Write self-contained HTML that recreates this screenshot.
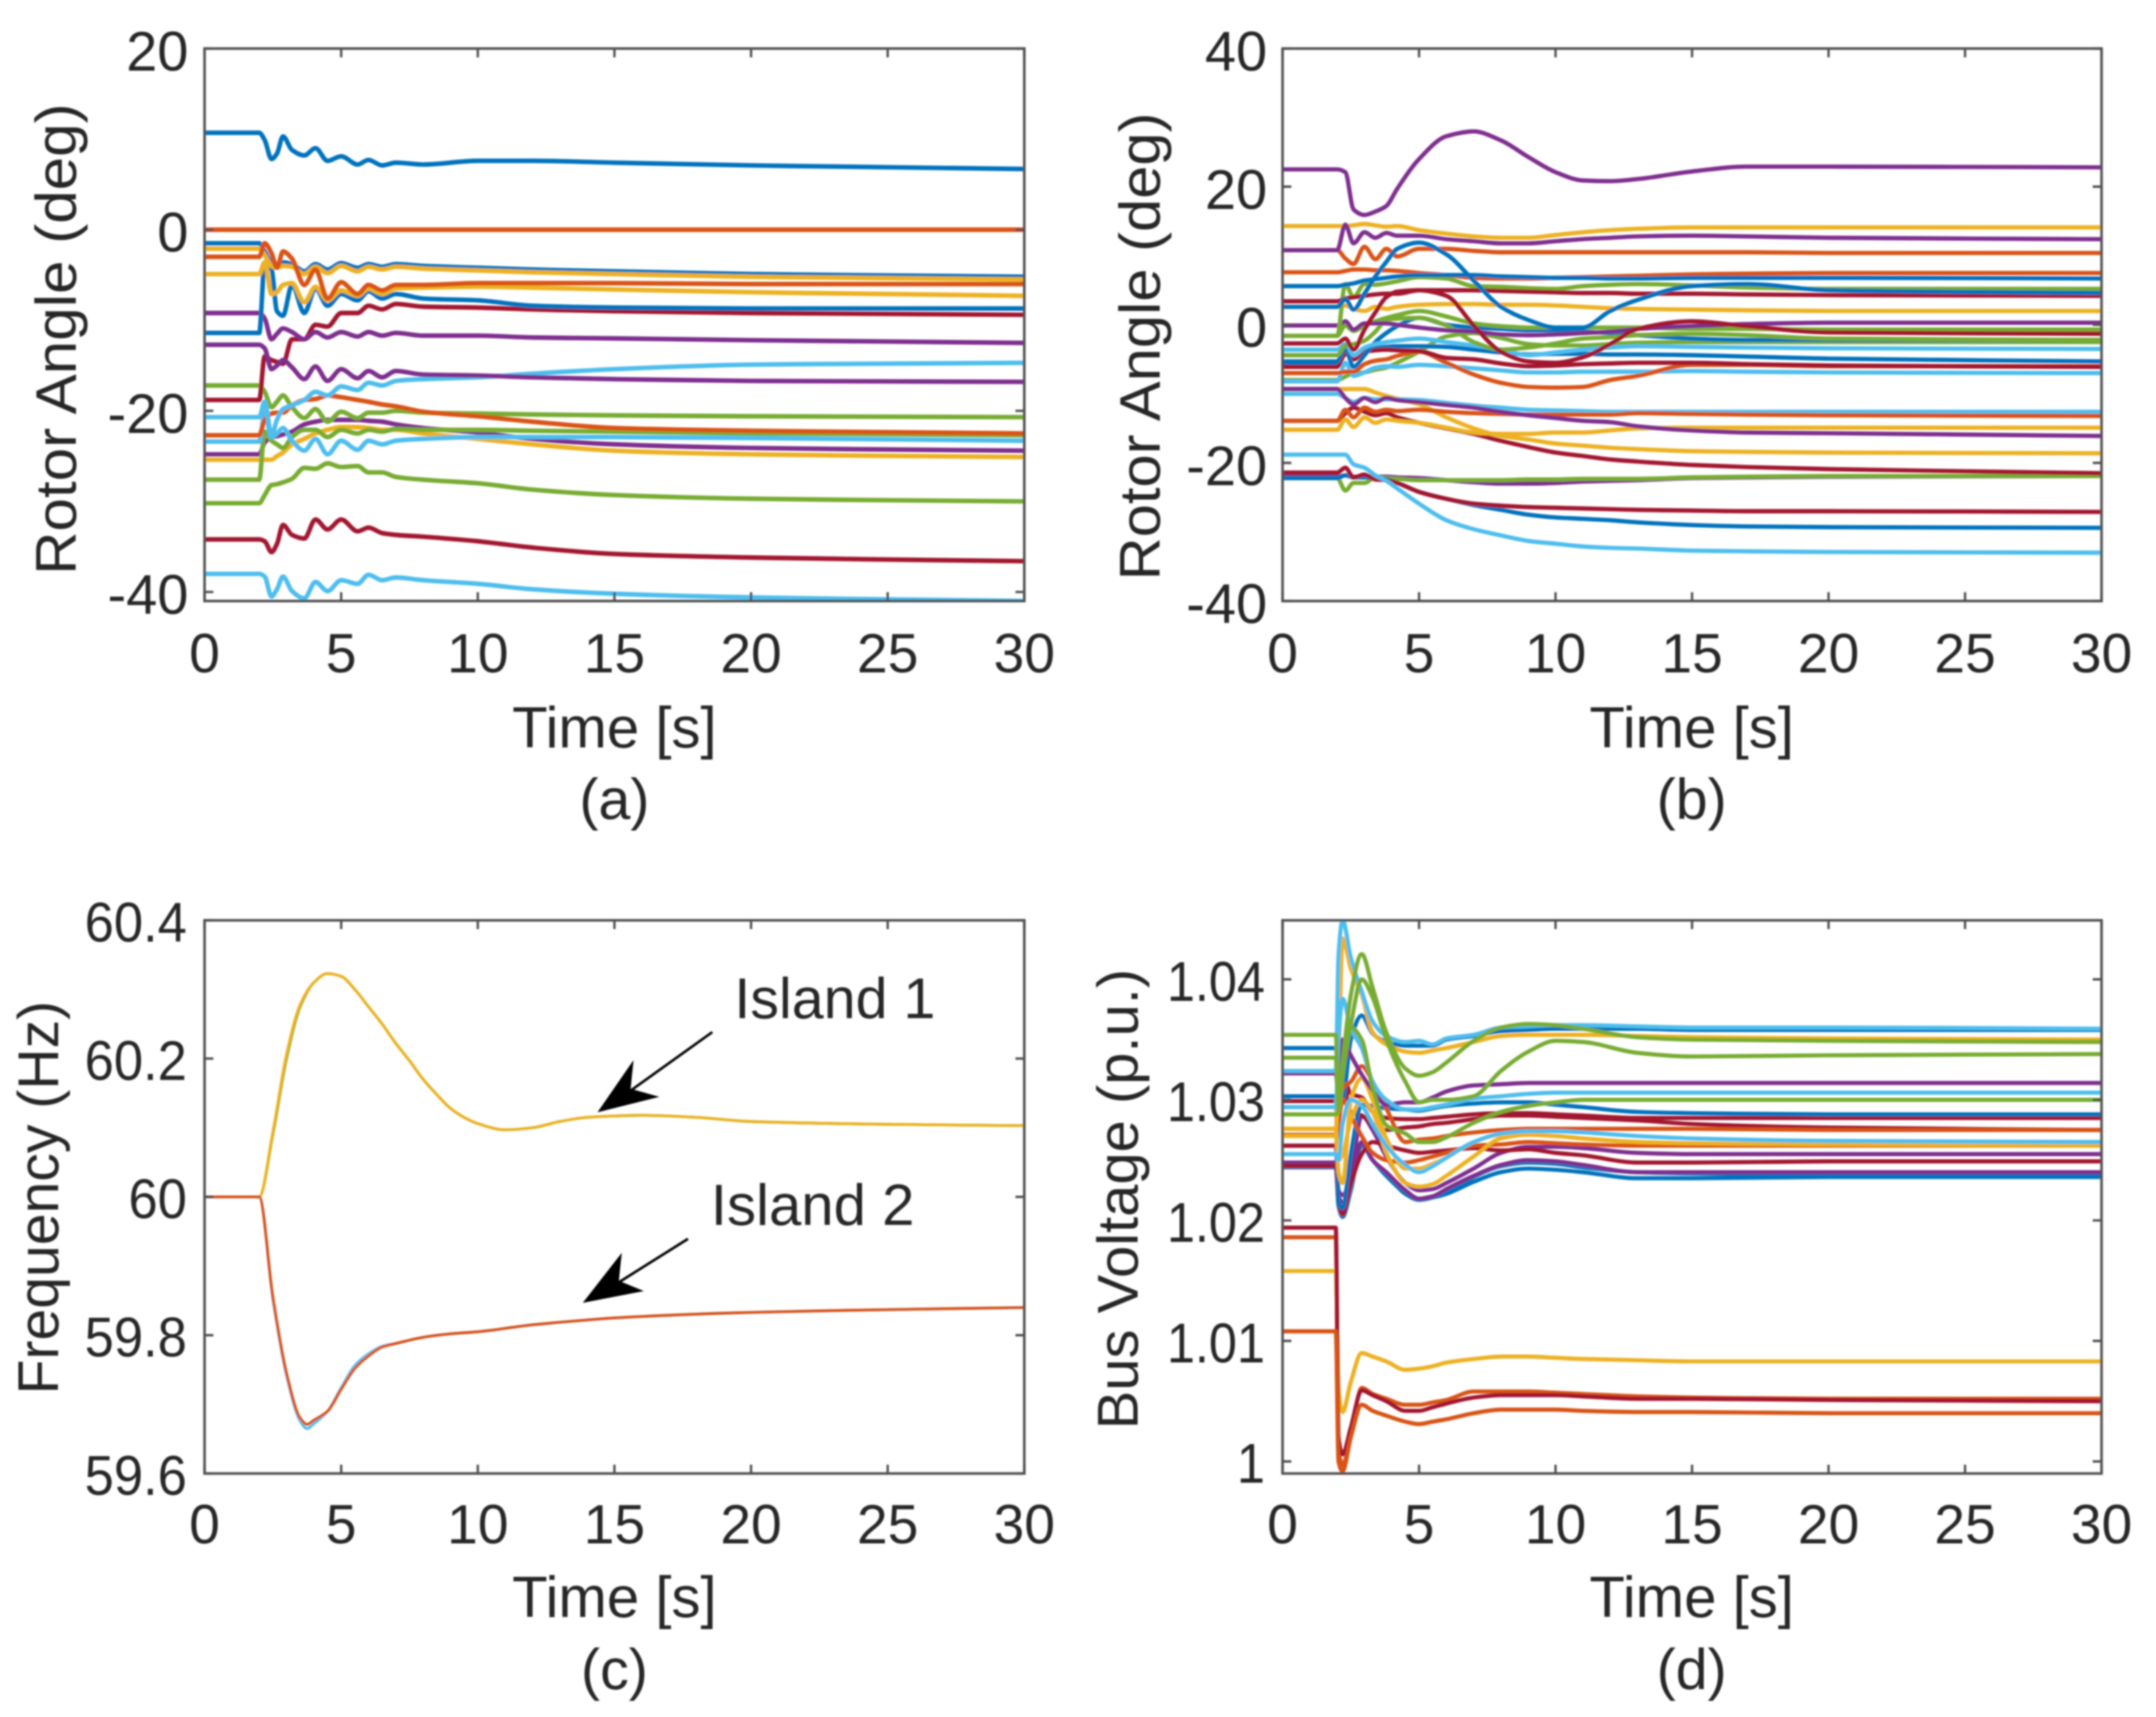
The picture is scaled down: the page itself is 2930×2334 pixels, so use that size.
<!DOCTYPE html>
<html lang="en">
<head>
<meta charset="utf-8">
<title>Rotor angle, frequency and bus voltage transients</title>
<style>
  html, body { margin: 0; padding: 0; background: #fff; }
  svg { display: block; }
  text { font-family: "Liberation Sans", Arial, sans-serif; fill: #262626; }
</style>
</head>
<body>
<svg id="figure" xmlns="http://www.w3.org/2000/svg" width="2930" height="2334" viewBox="0 0 2930 2334">
  <defs>
    <filter id="soft" x="-2%" y="-2%" width="104%" height="104%"><feGaussianBlur stdDeviation="1"/></filter>
    <clipPath id="clip-a"><rect x="278" y="66" width="1114" height="751"/></clipPath>
    <clipPath id="clip-b"><rect x="1743" y="66" width="1113" height="751"/></clipPath>
    <clipPath id="clip-c"><rect x="278" y="1251" width="1114" height="752"/></clipPath>
    <clipPath id="clip-d"><rect x="1743" y="1251" width="1113" height="752"/></clipPath>
  </defs>
  <g id="root" filter="url(#soft)">
    <text x="103" y="461" transform="rotate(-90 103 461)" font-size="78" text-anchor="middle" textLength="641" lengthAdjust="spacingAndGlyphs">Rotor Angle (deg)</text>
    <text x="1576" y="471" transform="rotate(-90 1576 471)" font-size="78" text-anchor="middle" textLength="636" lengthAdjust="spacingAndGlyphs">Rotor Angle (deg)</text>
    <text x="79" y="1628" transform="rotate(-90 79 1628)" font-size="78" text-anchor="middle" textLength="535" lengthAdjust="spacingAndGlyphs">Frequency (Hz)</text>
    <text x="1546" y="1630" transform="rotate(-90 1546 1630)" font-size="78" text-anchor="middle" textLength="626" lengthAdjust="spacingAndGlyphs">Bus Voltage (p.u.)</text>

    <text x="835" y="1016" font-size="79" text-anchor="middle">Time [s]</text>
    <text x="2299" y="1016" font-size="79" text-anchor="middle">Time [s]</text>
    <text x="835" y="2198" font-size="79" text-anchor="middle">Time [s]</text>
    <text x="2299" y="2198" font-size="79" text-anchor="middle">Time [s]</text>

    <text x="835" y="1113" font-size="78" text-anchor="middle">(a)</text>
    <text x="2299" y="1113" font-size="78" text-anchor="middle">(b)</text>
    <text x="835" y="2296" font-size="78" text-anchor="middle">(c)</text>
    <text x="2299" y="2296" font-size="78" text-anchor="middle">(d)</text>

    <g id="plots"></g>

    <text x="998" y="1384" font-size="78">Island 1</text>
    <text x="966" y="1665" font-size="79">Island 2</text>
    <g>
      <line x1="968" y1="1403" x2="855" y2="1484" stroke="#000" stroke-width="3.5"/>
      <polygon points="812,1512 861,1441 857,1480 896,1491" fill="#000"/>
    </g>
    <g>
      <line x1="935" y1="1684" x2="838" y2="1745" stroke="#000" stroke-width="3.5"/>
      <polygon points="792,1771 845,1703 841,1741 875,1755" fill="#000"/>
    </g>
  </g>
</svg>
<script>
/* MATLAB default line colours */
const BLUE = '#0072BD', ORANGE = '#D95319', YELLOW = '#EDB120', PURPLE = '#7E2F8E', GREEN = '#77AC30', LIGHT = '#4DBEEE', CRIMSON = '#A2142F';

/* ---------- shared ticks ---------- */
const timeTicks = [0, 5, 10, 15, 20, 25, 30];
const angleTicksA = [20, 0, -20, -40];
const angleTicksB = [40, 20, 0, -20, -40];
const freqTicks = [60.4, 60.2, 60, 59.8, 59.6];
const freqTickLabels = ['60.4', '60.2', '60', '59.8', '59.6'];
const voltTicks = [1.04, 1.03, 1.02, 1.01, 1];
const voltTickLabels = ['1.04', '1.03', '1.02', '1.01', '1'];

/* ---------- panel (a): rotor angle, sampled time in s ---------- */
const timeA = [0,2,2.2,2.45,2.65,2.87,3.2,3.65,4.06,4.5,5,5.6,6,6.5,7,8,10,12,15,20,30];
const aGreen3 = [-30.2,-30.2,-29.3,-28.2,-28.1,-27.9,-27.5,-26.3,-26.4,-25.8,-26.2,-26.1,-26.8,-26.8,-27.3,-27.6,-28,-28.7,-29.3,-29.7,-30];
const aYellow4 = [-25.4,-25.4,-25.4,-25.4,-25,-24.6,-23.7,-23.1,-22.5,-22.1,-21.8,-21.8,-21.9,-22.1,-22.1,-22.5,-23.1,-23.7,-24.4,-24.8,-25.1];
const aPurple3 = [-24.8,-24.8,-23.5,-22.9,-22.8,-22.6,-22.3,-21.5,-21.2,-21,-21,-21,-21.1,-21.2,-21.5,-21.9,-22.4,-23.1,-23.7,-24.1,-24.4];
const aGreen2 = [-27.6,-27.6,-22.3,-23.3,-23.7,-24.1,-22.9,-22.1,-22.1,-22.9,-22.1,-22.5,-22.1,-22.3,-22,-22.1,-22.1,-22.2,-22.3,-22.5,-22.7];
const aLightMid = [-23.4,-23.4,-20.2,-22.9,-22.5,-21.9,-23.3,-24.4,-23.1,-24.8,-23.3,-24.3,-23.3,-23.7,-23.3,-23.1,-22.9,-22.9,-22.9,-23,-23.3];
const aOrange3 = [-22.7,-22.7,-21,-20.3,-20.2,-20.2,-19.4,-18.8,-18.7,-18.3,-18.5,-18.8,-19,-19.3,-19.5,-20.1,-20.6,-21.2,-21.9,-22.2,-22.5];
const aGreen1 = [-17.2,-17.2,-17.9,-19.6,-19,-18.3,-19.6,-20.8,-19.8,-21.2,-20.1,-20.8,-20.2,-20.2,-20,-20.2,-20.3,-20.4,-20.5,-20.6,-20.7];
const aLightTop = [-20.7,-20.7,-19,-22.7,-21,-19.8,-19.4,-18.8,-17.9,-18.3,-17.3,-17.7,-16.9,-17.2,-16.7,-16.5,-16.3,-15.9,-15.4,-14.9,-14.7];
const aCrimson1 = [-18.8,-18.8,-14,-14.4,-14.6,-14.8,-12.1,-12.1,-10.5,-10.7,-9.2,-9.2,-8.4,-8.8,-8.2,-8.5,-8.6,-8.8,-9,-9.2,-9.4];
const aPurple2 = [-12.7,-12.7,-13.1,-15.4,-15,-14.4,-15.2,-16.5,-15.1,-16.7,-15.4,-16.4,-15.6,-16.3,-15.6,-16,-16.1,-16.3,-16.5,-16.7,-16.8];
const aPurple1 = [-9.2,-9.2,-9.8,-12.1,-11.5,-10.9,-11.3,-12.1,-11.3,-11.9,-11.3,-11.8,-11.3,-11.7,-11.4,-11.7,-11.7,-11.9,-12,-12.2,-12.5];
const aBlue3 = [-11.4,-11.4,-3.8,-4.4,-9,-9.5,-6.1,-9.2,-6.5,-8.4,-7.1,-7.8,-6.8,-7.6,-7.1,-7.6,-7.8,-8.4,-8.6,-8.7,-8.7];
const aBlue2 = [-1.5,-1.5,-2.4,-3.6,-3.8,-3.6,-3.8,-4.6,-3.8,-4.4,-3.7,-4.2,-3.8,-4.1,-3.8,-4,-4.2,-4.4,-4.6,-4.9,-5.2];
const aYellow2 = [-2.1,-2.1,-2.8,-4,-4.2,-4,-4.1,-4.9,-4.1,-4.8,-4,-4.6,-4.1,-4.4,-4.1,-4.3,-4.5,-4.7,-4.9,-5.2,-5.5];
const aYellow3 = [-4.9,-4.9,-3.6,-7.1,-6.9,-6.1,-5.9,-8,-6.3,-7.8,-6.7,-7.3,-6.5,-7.1,-6.5,-6.4,-6.3,-6.4,-6.6,-6.9,-7.3];
const aOrange2 = [-3,-3,-1.5,-2.6,-4.2,-2.4,-3.2,-6.1,-4.4,-7.6,-5.8,-7.1,-6.1,-6.7,-6.1,-6.1,-5.9,-5.9,-5.9,-6,-6];
const aOrange0 = [0,0,0,0,0,0,0,0,0,0,0,0,0,0,0,0,0,0,0,0,0];
const aBlue1 = [10.7,10.7,9.9,7.8,8.4,10.3,8.8,8.2,9,7.6,8.1,7.2,7.7,7.1,7.4,7.2,7.6,7.6,7.4,7.1,6.7];
const aCrimson2 = [-34.2,-34.2,-34.4,-35.6,-34.7,-32.6,-33.7,-34.1,-32,-33.1,-32,-33.3,-32.9,-33.5,-33.7,-33.9,-34.4,-35.1,-35.8,-36.2,-36.6];
const aLightLow = [-38,-38,-38.3,-40.5,-39.7,-38.3,-39.9,-40.7,-38.9,-39.9,-38.7,-39.1,-38.1,-38.7,-38.4,-38.7,-39.1,-39.7,-40.2,-40.6,-41];

/* ---------- panel (b): rotor angle ---------- */
const timeB = [0,2,2.3,2.6,3,3.4,3.8,4.2,5,6,7,8,9,10,11,12,13,15,17,20,30];
const bPurple5 = [-22,-22,-21.8,-22,-22,-22,-22,-22.1,-22.2,-22.5,-22.8,-23,-23,-22.9,-22.7,-22.6,-22.5,-22.2,-22.1,-22,-21.9];
const bGreen5 = [-22.2,-22.2,-24,-22.9,-22.9,-22.1,-22.2,-22.3,-22.5,-22.5,-22.5,-22.5,-22.4,-22.4,-22.3,-22.3,-22.3,-22.1,-22,-21.9,-21.9];
const bBlue4 = [-22.2,-22.2,-21.8,-22.1,-22.1,-22.2,-22.4,-22.9,-24.2,-25.2,-26.1,-26.8,-27.5,-27.9,-28.1,-28.3,-28.6,-29,-29.2,-29.3,-29.4];
const bCrimson4 = [-21.4,-21.4,-20.7,-22.1,-21.7,-22.4,-22.5,-22.9,-24.2,-25.2,-25.9,-26.2,-26.4,-26.5,-26.6,-26.7,-26.8,-26.9,-27,-27,-27.1];
const bLight4 = [-18.8,-18.8,-18.8,-20.2,-20.7,-21.8,-22.6,-23.7,-25.9,-28.3,-29.6,-30.5,-31.3,-31.7,-32.1,-32.3,-32.4,-32.7,-32.8,-32.9,-33];
const bYellow3 = [-9.3,-9.3,-9.3,-9.3,-9.3,-9.8,-10.3,-10.7,-11.5,-13.4,-15,-16.1,-16.6,-17.2,-17.5,-17.8,-18,-18.3,-18.4,-18.5,-18.6];
const bCrimson3 = [-13.9,-13.9,-12.8,-12,-12.6,-13.1,-12.8,-13.4,-14.2,-15,-15.8,-16.8,-17.7,-18.5,-19,-19.5,-19.8,-20.3,-20.6,-20.9,-21.5];
const bYellow4 = [-15.2,-15.2,-13.7,-14.8,-13.4,-14.2,-13.7,-13.9,-14.2,-14.9,-15.6,-15.8,-15.8,-15.6,-15.6,-15.3,-15,-14.9,-14.9,-14.9,-14.9];
const bLight3 = [-10,-10,-10.6,-11.2,-10.6,-10.8,-10.8,-10.8,-10.9,-11.3,-11.7,-12,-12.3,-12.4,-12.5,-12.6,-12.6,-12.6,-12.6,-12.6,-12.6];
const bOrange4 = [-13.9,-13.9,-12.3,-13.4,-12,-12.6,-12.3,-12.5,-12.3,-12.6,-12.8,-12.9,-13,-13,-13,-13,-12.8,-12.9,-13,-13.1,-13.2];
const bPurple4 = [-9.3,-9.3,-10.6,-11.5,-10.6,-11.2,-10.6,-10.9,-11.2,-11.6,-12,-12.6,-13.1,-13.5,-13.9,-14.1,-14.7,-15.3,-15.6,-15.7,-16.1];
const bGreen4 = [-8,-8,-7.5,-7,-6.9,-6.5,-6.2,-5.5,-3.9,-1.7,-1.2,-1.9,-2.8,-3,-3,-2.8,-2.6,-2.5,-2.5,-2.5,-2.5];
const bLight2 = [-8.2,-8.2,-5.5,-7.4,-6.9,-6.2,-6,-6.1,-5.8,-6,-6.3,-6.6,-6.9,-6.9,-6.8,-6.8,-6.8,-6.7,-6.8,-6.9,-7];
const bOrange3 = [-7,-7,-6.8,-6.8,-5.7,-5.2,-5,-4.5,-3.9,-5.5,-7.2,-8.4,-9,-9.1,-9,-8,-7.4,-5.8,-5.8,-6,-6];
const bBlue3 = [-5.5,-5.5,-3.9,-5,-3.6,-3.4,-3.2,-3.1,-3.1,-3.2,-3.6,-4,-4.3,-4.2,-4.2,-4.3,-4.3,-4.4,-4.6,-4.9,-5.3];
const bCrimson2 = [-6.1,-6.1,-4.2,-5,-3.9,-3.7,-3.6,-3.7,-3.8,-4.8,-5,-5.6,-6,-5.9,-5.7,-5.6,-5.5,-5.5,-5.7,-5.9,-6.1];
const bBlue2 = [-5.3,-5.3,-3.4,-6.1,-4.4,-2.5,-1.2,-0.2,1,0,-0.4,-0.6,-0.8,-0.8,-1,-1.2,-1.5,-2,-2.2,-2.2,-2.2];
const bLight1 = [-3.6,-3.6,-2.8,-4.4,-3.3,-2.8,-2.5,-2.3,-2,-2.5,-3,-3.6,-4.4,-4,-3.6,-3.3,-3.1,-3.2,-3.3,-3.4,-3.5];
const bGreen3 = [-4.4,-4.4,-3,-2.8,-2.3,-1,0.7,0.9,1,-0.1,-2.5,-3.6,-3.3,-2.7,-2,-1.8,-1.5,-1.3,-1.5,-2,-2.2];
const bGreen2 = [-1.6,-1.6,-0.1,-0.9,-0.1,0.5,1,1.4,2,1.2,0.2,-0.2,-0.4,-0.4,-0.4,-0.4,-0.4,-0.6,-0.6,-0.7,-0.7];
const bPurple3 = [-0.1,-0.1,0.5,-0.7,0.2,0.2,0.2,0,-0.4,-0.8,-1,-1.4,-1.5,-1.4,-1.2,-1,-0.6,-0.2,0.1,0.3,0.3];
const bYellow2 = [2.6,2.6,2.8,2.3,2,2.6,2.3,2.6,2.9,3,3,2.9,2.9,2.8,2.6,2.4,2.3,2.2,2.1,2,2];
const bGreen1 = [-1.6,-1.6,5.9,4,5.9,5.8,6,6.3,6.9,6.7,5.6,5.5,5.3,5.2,5.6,5.8,5.9,5.7,5.4,5.2,5.2];
const bCrimson1 = [3.4,3.4,3.8,4,4.2,4.4,4.5,4.5,5,5,5,4.9,4.8,4.7,4.6,4.6,4.5,4.5,4.4,4.3,4.2];
const bOrange2 = [7.6,7.6,7.8,8,8,7.9,7.9,7.8,7.5,7.2,6.8,6.7,6.7,6.8,6.9,7,7.1,7.3,7.4,7.5,7.5];
const bBlue1 = [5.6,5.6,5.8,6,6.4,6.6,6.8,7,7.2,7.2,7.2,7,6.9,6.8,6.8,6.7,6.7,6.8,6.8,6.8,6.7];
const bOrange1 = [10.8,10.8,9.6,8.8,11.3,9.5,11,9.9,11,11,10.7,10.5,10.5,10.5,10.5,10.5,10.5,10.5,10.5,10.4,10.4];
const bYellow1 = [14.3,14.3,14.3,14.4,14.6,14.4,14.2,14.3,13.7,13.2,12.8,12.6,12.6,13,13.4,13.7,13.9,14.1,14.1,14.1,14.1];
const bPurple2 = [10.8,10.8,14.5,11.8,13.4,12.6,13.3,12.9,12.9,12.4,12.1,11.8,11.8,12.1,12.4,12.6,12.8,12.9,12.8,12.6,12.4];
const bBlueWave = [2.6,2.6,3.7,2.2,4.5,7,9.1,11,11.9,10.2,6.4,2.6,0.7,-0.4,-0.4,2,3.6,5.6,5.9,5,4.6];
const bCrimsonWave = [-2.7,-2.7,-2,-3.6,-0.7,1.8,4,4.8,5,4.2,-0.1,-3.9,-5.3,-5.5,-4.7,-2.8,-0.6,0.5,-0.2,-1.1,-1.3];
const bPurpleMain = [22.5,22.5,22.1,16.7,15.9,16.4,17.2,19.7,24,27.3,28,26.7,24.3,22.1,20.9,20.8,21.1,22.2,22.9,22.9,22.8];

/* ---------- panel (c): frequency ---------- */
const timeC1 = [0,2,2.5,3,3.5,4,4.5,5,5.5,6,6.5,7,7.5,8,8.5,9,9.5,10,11,12,13,14,15,16,18,20,25,30];
const island1Green = [60,60,60.09,60.2,60.275,60.31,60.323,60.319,60.3,60.275,60.25,60.222,60.197,60.17,60.148,60.128,60.115,60.106,60.097,60.1,60.109,60.115,60.117,60.118,60.115,60.109,60.105,60.103];
const island1Yellow = [60,60,60.094,60.206,60.278,60.31,60.323,60.319,60.3,60.275,60.25,60.222,60.197,60.17,60.148,60.128,60.115,60.106,60.097,60.1,60.109,60.115,60.117,60.118,60.115,60.109,60.105,60.103];
const timeC2 = [0,2,2.5,3,3.5,3.75,4,4.5,5,5.5,6,6.5,7,8,9,10,12,14,15,20,25,30];
const island2Light = [60,60,59.853,59.742,59.676,59.665,59.672,59.69,59.724,59.756,59.773,59.784,59.788,59.797,59.802,59.805,59.815,59.822,59.825,59.833,59.837,59.84];
const island2Orange = [60,60,59.855,59.745,59.68,59.671,59.677,59.69,59.722,59.752,59.77,59.783,59.788,59.797,59.802,59.805,59.815,59.822,59.825,59.833,59.837,59.84];

/* ---------- panel (d): bus voltage ---------- */
const timeD = [0,1.95,2.05,2.2,2.5,2.9,3.3,3.8,4.5,5,5.5,6,7,8,9,10,11,13,15,20,30];
const dBlue3 = [1.0262,1.0262,1.0215,1.0203,1.0228,1.0262,1.0250,1.0237,1.0223,1.0218,1.0220,1.0223,1.0236,1.0245,1.0248,1.0247,1.0244,1.0240,1.0239,1.0238,1.0238];
const dBlue4 = [1.0244,1.0244,1.0212,1.0203,1.0225,1.0262,1.0250,1.0239,1.0222,1.0217,1.0219,1.0222,1.0232,1.0240,1.0243,1.0242,1.0240,1.0235,1.0235,1.0236,1.0236];
const dPurple3 = [1.0248,1.0248,1.0220,1.0215,1.0230,1.0265,1.0250,1.0240,1.0225,1.0218,1.0220,1.0226,1.0237,1.0246,1.0250,1.0249,1.0246,1.0240,1.0240,1.0240,1.0240];
const dPurple2 = [1.0262,1.0262,1.0225,1.0221,1.0237,1.0287,1.0275,1.0253,1.0231,1.0225,1.0226,1.0231,1.0243,1.0256,1.0261,1.0261,1.0260,1.0256,1.0255,1.0255,1.0255];
const dCrimson3 = [1.0245,1.0245,1.0215,1.0205,1.0230,1.0255,1.0265,1.0262,1.0258,1.0256,1.0257,1.0258,1.0260,1.0258,1.0259,1.0256,1.0254,1.0248,1.0248,1.0249,1.0249];
const dCrimson2 = [1.0262,1.0262,1.0280,1.0315,1.0290,1.0287,1.0280,1.0275,1.0277,1.0278,1.0280,1.0281,1.0284,1.0287,1.0287,1.0286,1.0285,1.0283,1.0280,1.0277,1.0275];
const dCrimson1 = [1.0299,1.0299,1.0310,1.0321,1.0305,1.0302,1.0290,1.0285,1.0284,1.0284,1.0285,1.0286,1.0288,1.0289,1.0289,1.0288,1.0287,1.0285,1.0285,1.0285,1.0285];
const dBlue2 = [1.0303,1.0303,1.0215,1.0210,1.0255,1.0296,1.0295,1.0293,1.0292,1.0291,1.0293,1.0295,1.0297,1.0298,1.0298,1.0296,1.0294,1.0290,1.0289,1.0288,1.0288];
const dBlueHigh = [1.0343,1.0343,1.0310,1.0300,1.0350,1.0370,1.0355,1.0348,1.0345,1.0345,1.0345,1.0350,1.0353,1.0357,1.0358,1.0359,1.0359,1.0359,1.0358,1.0358,1.0358];
const dOrange1 = [1.0271,1.0271,1.0280,1.0300,1.0287,1.0270,1.0256,1.0250,1.0248,1.0250,1.0253,1.0256,1.0262,1.0263,1.0265,1.0264,1.0263,1.0262,1.0262,1.0262,1.0262];
const dOrange2 = [1.0271,1.0271,1.0290,1.0310,1.0315,1.0328,1.0315,1.0293,1.0265,1.0267,1.0268,1.0270,1.0273,1.0275,1.0276,1.0276,1.0276,1.0276,1.0276,1.0275,1.0275];
const dYellow2 = [1.0276,1.0276,1.0240,1.0231,1.0300,1.0318,1.0300,1.0268,1.0243,1.0243,1.0247,1.0252,1.0265,1.0271,1.0271,1.0270,1.0268,1.0265,1.0264,1.0263,1.0263];
const dYellow3 = [1.0270,1.0270,1.0250,1.0255,1.0283,1.0300,1.0290,1.0256,1.0231,1.0228,1.0230,1.0237,1.0253,1.0268,1.0271,1.0270,1.0268,1.0265,1.0264,1.0263,1.0262];
const dYellowHigh = [1.0276,1.0276,1.0330,1.0434,1.0409,1.0387,1.0356,1.0346,1.0340,1.0339,1.0341,1.0343,1.0348,1.0353,1.0354,1.0354,1.0354,1.0353,1.0352,1.0351,1.0350];
const dLight3 = [1.0255,1.0255,1.0250,1.0280,1.0300,1.0295,1.0280,1.0262,1.0246,1.0240,1.0245,1.0252,1.0265,1.0272,1.0274,1.0274,1.0273,1.0270,1.0268,1.0266,1.0265];
const dPurple1 = [1.0322,1.0322,1.0300,1.0350,1.0337,1.0321,1.0308,1.0296,1.0298,1.0298,1.0302,1.0307,1.0312,1.0313,1.0314,1.0314,1.0314,1.0314,1.0314,1.0314,1.0314];
const dLight2 = [1.0294,1.0294,1.0350,1.0384,1.0359,1.0343,1.0315,1.0300,1.0292,1.0292,1.0294,1.0296,1.0301,1.0303,1.0305,1.0306,1.0306,1.0306,1.0306,1.0306,1.0306];
const dLight1 = [1.0324,1.0324,1.0420,1.0449,1.0418,1.0390,1.0365,1.0353,1.0348,1.0349,1.0346,1.0351,1.0354,1.0360,1.0361,1.0362,1.0362,1.0361,1.0360,1.0360,1.0359];
const dGreen3 = [1.0288,1.0288,1.0290,1.0325,1.0360,1.0350,1.0310,1.0279,1.0272,1.0265,1.0265,1.0269,1.0281,1.0290,1.0295,1.0298,1.0300,1.0300,1.0300,1.0300,1.0300];
const dGreen2 = [1.0335,1.0335,1.0290,1.0320,1.0362,1.0400,1.0385,1.0350,1.0315,1.0298,1.0300,1.0300,1.0303,1.0324,1.0340,1.0349,1.0348,1.0339,1.0336,1.0337,1.0338];
const dGreen1 = [1.0354,1.0354,1.0300,1.0331,1.0387,1.0421,1.0393,1.0356,1.0326,1.0320,1.0323,1.0331,1.0349,1.0360,1.0363,1.0362,1.0359,1.0352,1.0350,1.0349,1.0348];
const dYellowLow = [1.0158,1.0158,1.0060,1.0041,1.0066,1.0090,1.0087,1.0083,1.0076,1.0077,1.0079,1.0082,1.0085,1.0087,1.0087,1.0086,1.0085,1.0084,1.0083,1.0083,1.0083];
const dOrangeLow1 = [1.0186,1.0186,1.0010,0.9997,1.0022,1.0061,1.0056,1.0052,1.0047,1.0047,1.0049,1.0051,1.0058,1.0058,1.0058,1.0057,1.0056,1.0054,1.0053,1.0052,1.0052];
const dCrimsonLow = [1.0194,1.0194,1.0020,1.0006,1.0028,1.0059,1.0055,1.0050,1.0042,1.0042,1.0045,1.0048,1.0053,1.0055,1.0055,1.0055,1.0054,1.0052,1.0052,1.0051,1.0050];
const dOrangeLow2 = [1.0108,1.0108,1.0000,0.9992,1.0020,1.0047,1.0042,1.0038,1.0033,1.0031,1.0033,1.0035,1.0040,1.0043,1.0043,1.0043,1.0042,1.0041,1.0041,1.0040,1.0040];

const seriesA = [
  ['a-green-3', aGreen3, GREEN], ['a-yellow-4', aYellow4, YELLOW], ['a-purple-3', aPurple3, PURPLE], ['a-green-2', aGreen2, GREEN],
  ['a-light-mid', aLightMid, LIGHT], ['a-green-1', aGreen1, GREEN], ['a-orange-3', aOrange3, ORANGE], ['a-light-top', aLightTop, LIGHT],
  ['a-crimson-1', aCrimson1, CRIMSON], ['a-purple-2', aPurple2, PURPLE], ['a-purple-1', aPurple1, PURPLE], ['a-blue-3', aBlue3, BLUE],
  ['a-blue-2', aBlue2, BLUE], ['a-yellow-2', aYellow2, YELLOW], ['a-yellow-3', aYellow3, YELLOW], ['a-orange-2', aOrange2, ORANGE],
  ['a-orange-0', aOrange0, ORANGE], ['a-blue-1', aBlue1, BLUE], ['a-crimson-2', aCrimson2, CRIMSON], ['a-light-low', aLightLow, LIGHT]
];
const seriesB = [
  ['b-purple-5', bPurple5, PURPLE], ['b-green-5', bGreen5, GREEN], ['b-blue-4', bBlue4, BLUE], ['b-crimson-4', bCrimson4, CRIMSON],
  ['b-light-4', bLight4, LIGHT], ['b-yellow-3', bYellow3, YELLOW], ['b-crimson-3', bCrimson3, CRIMSON], ['b-yellow-4', bYellow4, YELLOW],
  ['b-light-3', bLight3, LIGHT], ['b-orange-4', bOrange4, ORANGE], ['b-purple-4', bPurple4, PURPLE], ['b-green-4', bGreen4, GREEN],
  ['b-light-2', bLight2, LIGHT], ['b-orange-3', bOrange3, ORANGE], ['b-blue-3', bBlue3, BLUE], ['b-crimson-2', bCrimson2, CRIMSON],
  ['b-blue-2', bBlue2, BLUE], ['b-light-1', bLight1, LIGHT], ['b-green-3', bGreen3, GREEN], ['b-green-2', bGreen2, GREEN],
  ['b-purple-3', bPurple3, PURPLE], ['b-yellow-2', bYellow2, YELLOW], ['b-green-1', bGreen1, GREEN], ['b-crimson-1', bCrimson1, CRIMSON],
  ['b-orange-2', bOrange2, ORANGE], ['b-blue-1', bBlue1, BLUE], ['b-orange-1', bOrange1, ORANGE], ['b-yellow-1', bYellow1, YELLOW],
  ['b-purple-2', bPurple2, PURPLE], ['b-blue-wave', bBlueWave, BLUE], ['b-crimson-wave', bCrimsonWave, CRIMSON], ['b-purple-main', bPurpleMain, PURPLE]
];
const seriesC = [
  ['island-1-green', island1Green, GREEN, timeC1], ['island-1-yellow', island1Yellow, YELLOW, timeC1],
  ['island-2-light', island2Light, LIGHT, timeC2], ['island-2-orange', island2Orange, ORANGE, timeC2]
];
const seriesD = [
  ['d-blue-3', dBlue3, BLUE], ['d-blue-4', dBlue4, BLUE], ['d-purple-3', dPurple3, PURPLE], ['d-purple-2', dPurple2, PURPLE],
  ['d-crimson-3', dCrimson3, CRIMSON], ['d-crimson-2', dCrimson2, CRIMSON], ['d-crimson-1', dCrimson1, CRIMSON], ['d-blue-2', dBlue2, BLUE],
  ['d-blue-high', dBlueHigh, BLUE], ['d-orange-1', dOrange1, ORANGE], ['d-orange-2', dOrange2, ORANGE], ['d-yellow-2', dYellow2, YELLOW],
  ['d-yellow-3', dYellow3, YELLOW], ['d-yellow-high', dYellowHigh, YELLOW], ['d-light-3', dLight3, LIGHT], ['d-purple-1', dPurple1, PURPLE],
  ['d-light-2', dLight2, LIGHT], ['d-light-1', dLight1, LIGHT], ['d-green-3', dGreen3, GREEN], ['d-green-2', dGreen2, GREEN],
  ['d-green-1', dGreen1, GREEN], ['d-yellow-low', dYellowLow, YELLOW], ['d-orange-low-1', dOrangeLow1, ORANGE],
  ['d-crimson-low', dCrimsonLow, CRIMSON], ['d-orange-low-2', dOrangeLow2, ORANGE]
];

const NS = 'http://www.w3.org/2000/svg';
const plots = document.getElementById('plots');

function make(parent, tag, attrs) {
  const el = document.createElementNS(NS, tag);
  for (const k in attrs) el.setAttribute(k, attrs[k]);
  parent.appendChild(el);
  return el;
}

/* monotone cubic path through the samples, positioned by the axis functions */
function curve(ts, vs, fx, fy) {
  const n = ts.length;
  const d = [], m = [];
  for (let i = 0; i < n - 1; i++) d.push((vs[i + 1] - vs[i]) / (ts[i + 1] - ts[i]));
  m.push(d[0]);
  for (let i = 1; i < n - 1; i++) {
    if (d[i - 1] * d[i] <= 0) m.push(0);
    else {
      const h0 = ts[i] - ts[i - 1], h1 = ts[i + 1] - ts[i];
      const w1 = 2 * h1 + h0, w2 = h1 + 2 * h0;
      m.push((w1 + w2) / (w1 / d[i - 1] + w2 / d[i]));
    }
  }
  m.push(d[n - 2]);
  let p = 'M' + fx(ts[0]).toFixed(2) + ' ' + fy(vs[0]).toFixed(2);
  for (let i = 0; i < n - 1; i++) {
    const h = ts[i + 1] - ts[i];
    p += 'C' + fx(ts[i] + h / 3).toFixed(2) + ' ' + fy(vs[i] + m[i] * h / 3).toFixed(2) +
         ' ' + fx(ts[i + 1] - h / 3).toFixed(2) + ' ' + fy(vs[i + 1] - m[i + 1] * h / 3).toFixed(2) +
         ' ' + fx(ts[i + 1]).toFixed(2) + ' ' + fy(vs[i + 1]).toFixed(2);
  }
  return p;
}

function drawPanel(cfg) {
  const fx = t => cfg.left + (t / 30) * (cfg.right - cfg.left);
  const fy = v => cfg.top + ((cfg.yMax - v) / (cfg.yMax - cfg.yMin)) * (cfg.bottom - cfg.top);

  const panel = make(plots, 'g', {});
  
  

  const lines = make(panel, 'g', { 'clip-path': 'url(#clip-' + cfg.id + ')', fill: 'none', 'stroke-width': cfg.width, 'stroke-linejoin': 'round', 'stroke-linecap': 'butt' });
  
  
  cfg.series.forEach(s => {
    const ts = s[3] || cfg.time;
    const path = make(lines, 'path', { d: curve(ts, s[1], fx, fy), stroke: s[2] });
    
    
  });

  const frame = make(panel, 'rect', { x: cfg.left, y: cfg.top, width: cfg.right - cfg.left, height: cfg.bottom - cfg.top, fill: 'none', stroke: '#505050', 'stroke-width': 3.5 });
  
  

  timeTicks.forEach(t => {
    const x = fx(t);
    const g = make(panel, 'g', {});
    
    
    make(g, 'path', { d: 'M' + x + ' ' + cfg.bottom + 'v-12M' + x + ' ' + cfg.top + 'v12', stroke: '#505050', 'stroke-width': 3.2, fill: 'none' });
    const label = make(g, 'text', { x: x, y: cfg.bottom + cfg.xLabelDy, 'font-size': 75, 'text-anchor': 'middle' });
    label.textContent = String(t);
  });

  cfg.yTicks.forEach((v, i) => {
    const y = fy(v);
    const g = make(panel, 'g', {});
    
    
    make(g, 'path', { d: 'M' + cfg.left + ' ' + y + 'h12M' + cfg.right + ' ' + y + 'h-12', stroke: '#505050', 'stroke-width': 3.2, fill: 'none' });
    const str = cfg.yLabels ? cfg.yLabels[i] : String(v);
    const label = make(g, 'text', { x: cfg.left - cfg.labelGap, y: y + cfg.labelDy, 'font-size': 76, 'text-anchor': 'end' });
    label.textContent = str;
    if (cfg.squeeze) {
      let em = 0;
      for (const ch of str) em += ch === '.' ? 0.278 : 0.556;
      label.setAttribute('textLength', (em * 76 * cfg.squeeze).toFixed(1));
      label.setAttribute('lengthAdjust', 'spacingAndGlyphs');
    }
  });
}

drawPanel({ id: 'a', left: 278, right: 1392, top: 66, bottom: 817, yMax: 20, yMin: -41, time: timeA, series: seriesA, yTicks: angleTicksA, width: 6.2, labelDy: 30, labelGap: 22, xLabelDy: 97 });
drawPanel({ id: 'b', left: 1743, right: 2856, top: 66, bottom: 817, yMax: 40, yMin: -40, time: timeB, series: seriesB, yTicks: angleTicksB, width: 5.8, labelDy: 30, labelGap: 21, xLabelDy: 97 });
drawPanel({ id: 'c', left: 278, right: 1392, top: 1251, bottom: 2003, yMax: 60.4, yMin: 59.6, series: seriesC, yTicks: freqTicks, yLabels: freqTickLabels, width: 3.8, labelDy: 29, labelGap: 24, xLabelDy: 95, squeeze: 0.94 });
drawPanel({ id: 'd', left: 1743, right: 2856, top: 1251, bottom: 2003, yMax: 1.0449, yMin: 0.999, time: timeD, series: seriesD, yTicks: voltTicks, yLabels: voltTickLabels, width: 5.6, labelDy: 29, labelGap: 24, xLabelDy: 95, squeeze: 0.9 });
</script>
</body>
</html>
